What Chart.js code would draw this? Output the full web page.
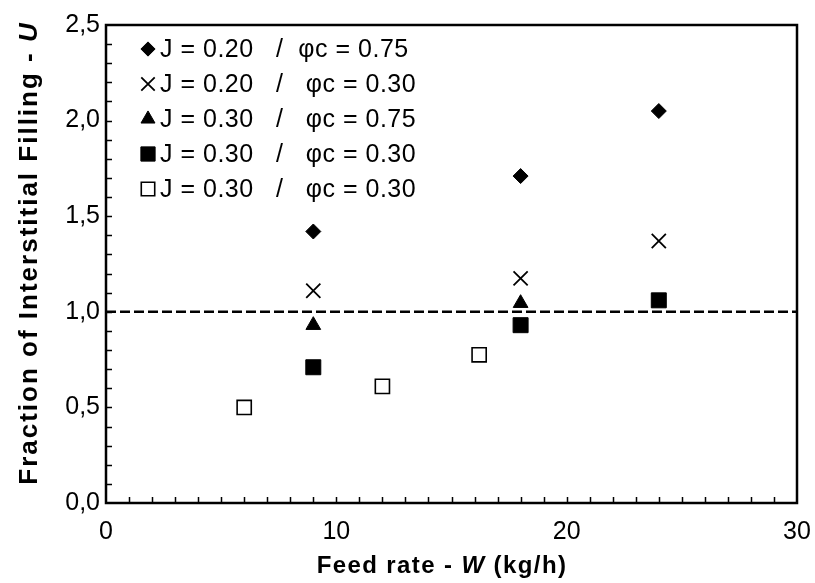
<!DOCTYPE html>
<html>
<head>
<meta charset="utf-8">
<script src="https://cdn.jsdelivr.net/npm/chart.js"></script>
<style>
  html, body { margin: 0; padding: 0; background: #fff; }
  #wrap { width: 815px; height: 583px; position: relative; }
</style>
</head>
<body>
<div id="wrap"><canvas id="grafico" width="815" height="583"></canvas></div>
<script>
// Series data
const seriesLabels = [
    'J = 0.20   /  φc = 0.75',
    'J = 0.20   /   φc = 0.30',
    'J = 0.30   /   φc = 0.75',
    'J = 0.30   /   φc = 0.30',
    'J = 0.30   /   φc = 0.30'
];
const diamondX = [9, 18, 24];
const diamondY = [1.42, 1.71, 2.05];
const crossX = [9, 18, 24];
const crossY = [1.11, 1.175, 1.37];
const triangleX = [9, 18];
const triangleY = [0.93, 1.045];
const squareX = [9, 18, 24];
const squareY = [0.71, 0.93, 1.06];
const openSquareX = [6, 12, 16.2];
const openSquareY = [0.5, 0.61, 0.775];

// dashed reference line U = 1
const refLineX = [0, 30];
const refLineY = [1, 1];

const xTicks = [0, 10, 20, 30];
const yTicks = [0, 0.5, 1.0, 1.5, 2.0, 2.5];

const fontFamily = '"Liberation Sans", Arial, sans-serif';

function puntos(xs, ys) {
    return xs.map((x, i) => ({ x: x, y: ys[i] }));
}

// Estilo de cada serie
const estilos = [
    { pointStyle: 'rectRot', radius: 7.5, bg: '#000', border: '#000', bw: 1 },
    { pointStyle: 'crossRot', radius: 10, bg: '#000', border: '#000', bw: 1.8 },
    { pointStyle: 'triangle', radius: 8.5, bg: '#000', border: '#000', bw: 1 },
    { pointStyle: 'rect', radius: 10.6, bg: '#000', border: '#000', bw: 1 },
    { pointStyle: 'rect', radius: 10, bg: '#fff', border: '#000', bw: 1.6 }
];
const datosSeries = [
    puntos(diamondX, diamondY),
    puntos(crossX, crossY),
    puntos(triangleX, triangleY),
    puntos(squareX, squareY),
    puntos(openSquareX, openSquareY)
];

const datasets = datosSeries.map((d, i) => ({
    label: seriesLabels[i],
    data: d,
    pointStyle: estilos[i].pointStyle,
    pointRadius: estilos[i].radius,
    pointHoverRadius: estilos[i].radius,
    backgroundColor: estilos[i].bg,
    borderColor: estilos[i].border,
    pointBorderWidth: estilos[i].bw,
    showLine: false
}));

datasets.push({
    label: 'U = 1',
    type: 'line',
    data: puntos(refLineX, refLineY),
    borderColor: '#000',
    borderWidth: 2.5,
    borderDash: [10, 4],
    pointRadius: 0,
    fill: false
});

// Marco, marcas interiores, títulos y leyenda
const decoraciones = {
    id: 'decoraciones',
    afterDraw(chart) {
        const ctx = chart.ctx;
        const area = chart.chartArea;
        const sx = chart.scales.x;
        const sy = chart.scales.y;
        ctx.save();
        ctx.strokeStyle = '#000';

        // marcas menores hacia dentro
        ctx.lineWidth = 1.5;
        ctx.beginPath();
        for (let v = 1; v < 30; v++) {
            const px = Math.round(sx.getPixelForValue(v)) + 0.5;
            ctx.moveTo(px, area.bottom);
            ctx.lineTo(px, area.bottom - 6);
        }
        for (let k = 1; k < 25; k++) {
            const py = Math.round(sy.getPixelForValue(k / 10)) + 0.5;
            ctx.moveTo(area.left, py);
            ctx.lineTo(area.left + 6, py);
        }
        ctx.stroke();

        // marco
        ctx.lineWidth = 2.5;
        ctx.strokeRect(area.left, area.top, area.right - area.left, area.bottom - area.top);

        // título eje X (W en cursiva)
        ctx.fillStyle = '#000';
        ctx.textBaseline = 'alphabetic';
        ctx.letterSpacing = '1.4px';
        const fNormal = 'bold 24px ' + fontFamily;
        const fItalic = 'italic bold 24px ' + fontFamily;
        const partesX = [['Feed rate - ', fNormal], ['W', fItalic], [' (kg/h)', fNormal]];
        dibujarPartes(ctx, partesX, 442, 573);

        // título eje Y
        ctx.translate(37, 253);
        ctx.rotate(-Math.PI / 2);
        ctx.letterSpacing = '2px';
        const fNormalY = 'bold 26px ' + fontFamily;
        const fItalicY = 'italic bold 26px ' + fontFamily;
        const partesY = [['Fraction of Interstitial Filling - ', fNormalY], ['U', fItalicY]];
        dibujarPartes(ctx, partesY, 0, 0);
        ctx.restore();

        // leyenda
        ctx.save();
        ctx.font = '25px ' + fontFamily;
        ctx.letterSpacing = '0.5px';
        ctx.textBaseline = 'middle';
        ctx.textAlign = 'left';
        for (let i = 0; i < seriesLabels.length; i++) {
            const y = 49 + 35 * i;
            const e = estilos[i];
            ctx.fillStyle = e.bg;
            ctx.strokeStyle = e.border;
            ctx.lineWidth = e.bw;
            Chart.helpers.drawPoint(ctx, {
                pointStyle: e.pointStyle,
                radius: e.radius * 0.95,
                borderWidth: e.bw,
                rotation: 0
            }, 148, y);
            ctx.fillStyle = '#000';
            ctx.fillText(seriesLabels[i], 160, y + 1);
        }
        ctx.restore();
    }
};

function dibujarPartes(ctx, partes, cx, baseY) {
    let total = 0;
    partes.forEach(p => { ctx.font = p[1]; total += ctx.measureText(p[0]).width; });
    let x = cx - total / 2;
    ctx.textAlign = 'left';
    partes.forEach(p => {
        ctx.font = p[1];
        ctx.fillText(p[0], x, baseY);
        x += ctx.measureText(p[0]).width;
    });
}

const ctx = document.getElementById('grafico').getContext('2d');
window.myChart = new Chart(ctx, {
    type: 'scatter',
    data: { datasets: datasets },
    options: {
        responsive: false,
        animation: false,
        events: [],
        layout: { padding: { top: 25, right: 18, left: 0, bottom: 0 } },
        scales: {
            x: {
                type: 'linear',
                min: 0,
                max: 30,
                afterBuildTicks: function(scale) {
                    scale.ticks = xTicks.map(v => ({ value: v }));
                },
                afterFit: function(scale) {
                    scale.height = 80;
                    scale.paddingLeft = 0;
                    scale.paddingRight = 0;
                },
                grid: { display: false, drawTicks: false },
                border: { display: false },
                ticks: {
                    padding: 14,
                    color: '#000',
                    font: { family: fontFamily, size: 25 },
                    maxRotation: 0
                }
            },
            y: {
                type: 'linear',
                min: 0,
                max: 2.5,
                afterBuildTicks: function(scale) {
                    scale.ticks = yTicks.map(v => ({ value: v }));
                },
                afterFit: function(scale) {
                    scale.width = 106;
                    scale.paddingTop = 0;
                    scale.paddingBottom = 0;
                },
                grid: { display: false, drawTicks: false },
                border: { display: false },
                ticks: {
                    padding: 6,
                    color: '#000',
                    font: { family: fontFamily, size: 25 },
                    callback: function(value) {
                        return value.toFixed(1).replace('.', ',');
                    }
                }
            }
        },
        plugins: {
            legend: { display: false },
            tooltip: { enabled: false }
        }
    },
    plugins: [decoraciones]
});
</script>
</body>
</html>
